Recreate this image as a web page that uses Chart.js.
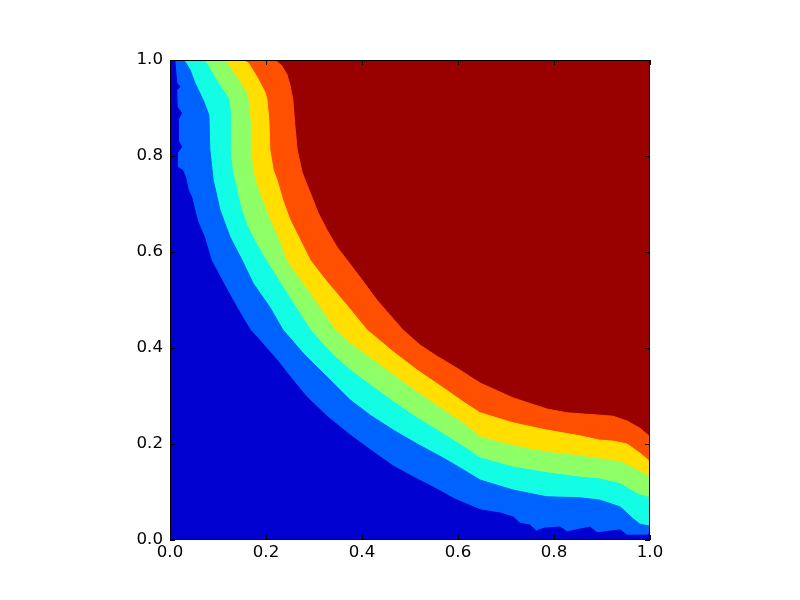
<!DOCTYPE html>
<html>
<head>
<meta charset="utf-8">
<script src="https://cdn.jsdelivr.net/npm/chart.js@4/dist/chart.umd.min.js"></script>
<style>
  html, body { margin: 0; padding: 0; background: #ffffff; }
  #wrap { width: 800px; height: 600px; }
</style>
</head>
<body>
<div id="wrap"><canvas id="c" width="800" height="600"></canvas></div>
<script>
// Axis tick values and labels
const xTickValues = [0.0, 0.2, 0.4, 0.6, 0.8, 1.0];
const yTickValues = [0.0, 0.2, 0.4, 0.6, 0.8, 1.0];
const tickLabels = ['0.0', '0.2', '0.4', '0.6', '0.8', '1.0'];

// Filled-contour band colours (jet), lowest band first
const bandColors = ['#0000d1', '#0062ff', '#13fde4', '#8fff68', '#ffde00', '#ff4f00', '#990000'];

// Contour boundaries, each running from the top edge (y=1) to the right edge (x=1)
// level 1: dark blue / blue
const edge1 = [[0.010,1.000],[0.014,0.952],[0.021,0.944],[0.014,0.938],[0.015,0.902],[0.024,0.890],
  [0.017,0.875],[0.017,0.833],[0.024,0.819],[0.015,0.806],[0.015,0.777],[0.026,0.771],[0.033,0.754],
  [0.038,0.729],[0.045,0.715],[0.050,0.694],[0.058,0.663],[0.071,0.633],[0.086,0.583],[0.119,0.521],
  [0.146,0.473],[0.167,0.438],[0.181,0.423],[0.223,0.375],[0.256,0.333],[0.285,0.298],[0.329,0.256],
  [0.375,0.219],[0.417,0.188],[0.465,0.154],[0.515,0.127],[0.556,0.106],[0.594,0.085],[0.646,0.063],
  [0.688,0.056],[0.715,0.048],[0.729,0.035],[0.750,0.031],[0.763,0.019],[0.781,0.025],[0.813,0.027],
  [0.827,0.017],[0.875,0.027],[0.890,0.015],[0.938,0.021],[0.952,0.010],[0.994,0.010],[1.000,0.015]];
// level 2: blue / cyan
const edge2 = [[0.029,1.000],[0.042,0.979],[0.052,0.952],[0.069,0.917],[0.081,0.885],[0.083,0.813],
  [0.090,0.750],[0.104,0.688],[0.125,0.631],[0.150,0.583],[0.173,0.535],[0.208,0.485],[0.235,0.438],
  [0.281,0.385],[0.329,0.338],[0.375,0.292],[0.417,0.260],[0.465,0.229],[0.515,0.200],[0.569,0.171],
  [0.615,0.144],[0.646,0.125],[0.715,0.104],[0.785,0.090],[0.854,0.088],[0.896,0.083],[0.938,0.069],
  [0.965,0.044],[0.979,0.033],[1.000,0.029]];
// level 3: cyan / green
const edge3 = [[0.068,1.000],[0.076,0.994],[0.097,0.958],[0.117,0.927],[0.123,0.917],[0.125,0.896],
  [0.125,0.813],[0.131,0.760],[0.135,0.750],[0.146,0.698],[0.160,0.656],[0.181,0.615],[0.200,0.583],
  [0.246,0.510],[0.292,0.438],[0.333,0.392],[0.375,0.354],[0.417,0.323],[0.465,0.288],[0.515,0.254],
  [0.569,0.221],[0.615,0.192],[0.646,0.171],[0.715,0.152],[0.785,0.140],[0.854,0.131],[0.896,0.127],
  [0.938,0.117],[0.973,0.096],[1.000,0.088]];
// level 4: green / yellow
const edge4 = [[0.108,1.000],[0.118,0.994],[0.139,0.965],[0.160,0.931],[0.163,0.917],[0.167,0.875],
  [0.167,0.813],[0.173,0.771],[0.177,0.750],[0.192,0.708],[0.208,0.667],[0.227,0.625],[0.242,0.583],
  [0.271,0.542],[0.308,0.490],[0.344,0.438],[0.375,0.410],[0.417,0.379],[0.465,0.344],[0.515,0.308],
  [0.569,0.271],[0.615,0.240],[0.646,0.215],[0.715,0.196],[0.785,0.183],[0.854,0.175],[0.896,0.169],
  [0.938,0.163],[0.973,0.146],[1.000,0.131]];
// level 5: yellow / orange
const edge5 = [[0.152,1.000],[0.163,0.994],[0.181,0.965],[0.198,0.933],[0.202,0.917],[0.206,0.875],
  [0.208,0.813],[0.215,0.771],[0.223,0.750],[0.235,0.708],[0.250,0.667],[0.271,0.625],[0.292,0.583],
  [0.327,0.538],[0.375,0.481],[0.410,0.438],[0.465,0.392],[0.515,0.354],[0.569,0.317],[0.615,0.285],
  [0.646,0.265],[0.715,0.244],[0.785,0.229],[0.854,0.217],[0.896,0.208],[0.923,0.206],[0.952,0.200],
  [0.979,0.181],[1.000,0.163]];
// level 6: orange / dark red
const edge6 = [[0.219,1.000],[0.233,0.988],[0.244,0.969],[0.250,0.948],[0.256,0.917],[0.260,0.865],
  [0.265,0.813],[0.275,0.767],[0.283,0.746],[0.294,0.719],[0.308,0.683],[0.327,0.646],[0.348,0.610],
  [0.369,0.583],[0.400,0.542],[0.431,0.500],[0.458,0.469],[0.485,0.438],[0.521,0.406],[0.556,0.383],
  [0.598,0.358],[0.646,0.327],[0.715,0.296],[0.785,0.273],[0.827,0.265],[0.896,0.260],[0.923,0.258],
  [0.952,0.248],[0.979,0.233],[1.000,0.215]];

const edges = [edge1, edge2, edge3, edge4, edge5, edge6];
const X_MIN = 0, X_MAX = 1, Y_MIN = 0, Y_MAX = 1;

// Each band k is the region below/left of edge k; the top band covers the whole area.
const datasets = [];
edges.forEach((edge, k) => {
  const pts = [{x: X_MIN, y: Y_MAX}].concat(edge.map(p => ({x: p[0], y: p[1]})));
  datasets.push({
    data: pts,
    showLine: true,
    fill: 'start',
    backgroundColor: bandColors[k],
    borderColor: bandColors[k],
    borderWidth: 1,
    pointRadius: 0,
    pointHoverRadius: 0,
    tension: 0
  });
});
datasets.push({
  data: [{x: X_MIN, y: Y_MAX}, {x: X_MAX, y: Y_MAX}],
  showLine: true,
  fill: 'start',
  backgroundColor: bandColors[6],
  borderColor: bandColors[6],
  borderWidth: 1,
  pointRadius: 0,
  tension: 0
});

const frameAndTicks = {
  id: 'frameAndTicks',
  afterDraw(chart) {
    const ctx = chart.ctx;
    const a = chart.chartArea;
    const xs = chart.scales.x, ys = chart.scales.y;
    const L = 5;
    ctx.save();
    ctx.strokeStyle = '#000000';
    ctx.lineWidth = 1;
    ctx.beginPath();
    xTickValues.forEach(v => {
      const px = Math.round(xs.getPixelForValue(v)) + 0.5;
      ctx.moveTo(px, a.bottom); ctx.lineTo(px, a.bottom - L);
      ctx.moveTo(px, a.top); ctx.lineTo(px, a.top + L);
    });
    yTickValues.forEach(v => {
      const py = Math.round(ys.getPixelForValue(v)) + 0.5;
      ctx.moveTo(a.left, py); ctx.lineTo(a.left + L, py);
      ctx.moveTo(a.right, py); ctx.lineTo(a.right - L, py);
    });
    ctx.stroke();
    ctx.strokeRect(Math.round(a.left) + 0.5, Math.round(a.top) + 0.5,
                   Math.round(a.right - a.left) - 1, Math.round(a.bottom - a.top) - 1);
    ctx.restore();
  }
};

const tickFont = { family: 'DejaVu Sans', size: 16.67 };

new Chart(document.getElementById('c'), {
  type: 'scatter',
  data: { datasets: datasets },
  options: {
    responsive: false,
    devicePixelRatio: 1,
    animation: false,
    layout: { padding: { left: 0, top: 60, right: 150, bottom: 0 } },
    plugins: { legend: { display: false }, tooltip: { enabled: false } },
    events: [],
    scales: {
      x: {
        type: 'linear', min: X_MIN, max: X_MAX,
        afterBuildTicks(scale) { scale.ticks = xTickValues.map(v => ({ value: v })); },
        afterFit(scale) { scale.height = 60; },
        grid: { display: false, drawTicks: false },
        border: { display: false },
        ticks: {
          color: '#000000', font: tickFont, padding: 3, maxRotation: 0, autoSkip: false,
          callback: (v, i) => tickLabels[i]
        }
      },
      y: {
        type: 'linear', min: Y_MIN, max: Y_MAX,
        afterBuildTicks(scale) { scale.ticks = yTickValues.map(v => ({ value: v })); },
        afterFit(scale) { scale.width = 170; },
        grid: { display: false, drawTicks: false },
        border: { display: false },
        ticks: {
          color: '#000000', font: tickFont, padding: 7, autoSkip: false,
          callback: (v, i) => tickLabels[i]
        }
      }
    }
  },
  plugins: [frameAndTicks]
});
</script>
</body>
</html>
